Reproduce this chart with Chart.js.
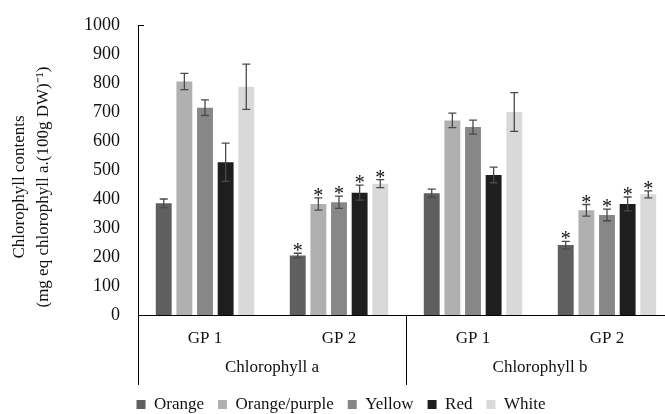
<!DOCTYPE html>
<html lang="en">
<head>
<meta charset="UTF-8" />
<title>Chlorophyll contents</title>
<script src="https://cdn.jsdelivr.net/npm/chart.js"></script>
<style>
  body { margin: 0; padding: 0; background: #fff; overflow: hidden; }
  .chart-container { position: relative; width: 676px; height: 414px; }
</style>
</head>
<body>
<div class="chart-container">
  <canvas id="chart"></canvas>
</div>
<script>
  const categories = ['GP 1', 'GP 2', 'GP 1', 'GP 2'];
  const groups = ['Chlorophyll a', 'Chlorophyll b'];
  const yTitle = ['Chlorophyll contents', '(mg eq chlorophyll a.(100g DW)\u207B\u00B9)'];
  const yTicks = [0, 100, 200, 300, 400, 500, 600, 700, 800, 900, 1000];

  const orange = [385, 205, 420, 241];
  const orangeErr = [15, 8, 14, 13];
  const orangePurple = [805, 383, 671, 361];
  const orangePurpleErr = [28, 21, 25, 20];
  const yellow = [715, 389, 648, 345];
  const yellowErr = [27, 21, 24, 20];
  const red = [527, 422, 483, 383];
  const redErr = [66, 26, 27, 24];
  const white = [787, 453, 700, 416];
  const whiteErr = [78, 14, 67, 12];
  // * = significant difference (GP 2 vs GP 1)
  const significant = [false, true, false, true];

  const FONT = 'Liberation Serif, Times New Roman, serif';

  function ds(label, data, err, color) {
    return {
      label: label, data: data, err: err, sig: significant,
      backgroundColor: color, borderWidth: 0,
      categoryPercentage: 0.77, barPercentage: 0.77
    };
  }

  // error bars + asterisks
  const errorBars = {
    id: 'errorBars',
    afterDatasetsDraw(chart) {
      const c = chart.ctx;
      const y = chart.scales.y;
      c.save();
      chart.data.datasets.forEach((d, i) => {
        chart.getDatasetMeta(i).data.forEach((bar, j) => {
          const top = y.getPixelForValue(d.data[j] + d.err[j]);
          const bot = y.getPixelForValue(d.data[j] - d.err[j]);
          c.strokeStyle = '#4a4a4a';
          c.lineWidth = 1.3;
          c.beginPath();
          c.moveTo(bar.x, top); c.lineTo(bar.x, bot);
          c.moveTo(bar.x - 4, top); c.lineTo(bar.x + 4, top);
          c.moveTo(bar.x - 4, bot); c.lineTo(bar.x + 4, bot);
          c.stroke();
          if (d.sig[j]) {
            c.fillStyle = '#111';
            c.font = '20px ' + FONT;
            c.textAlign = 'center';
            c.textBaseline = 'alphabetic';
            c.fillText('*', bar.x, top + 4);
          }
        });
      });
      c.restore();
    }
  };

  // group labels under the x axis, separator lines, y title
  const groupAxis = {
    id: 'groupAxis',
    afterDraw(chart) {
      const c = chart.ctx;
      const x = chart.scales.x;
      const area = chart.chartArea;
      const bottom = area.bottom;
      const half = (x.getPixelForValue(1) - x.getPixelForValue(0)) / 2;
      c.save();
      c.strokeStyle = '#000';
      c.lineWidth = 1;
      for (let k = 0; k <= categories.length; k += 2) {
        const px = Math.round((k < categories.length ? x.getPixelForValue(k) - half : x.getPixelForValue(k - 1) + half)) + 0.5;
        c.beginPath();
        c.moveTo(px, bottom);
        c.lineTo(px, bottom + 70);
        c.stroke();
      }
      // small tick at the top of the value axis
      c.beginPath();
      c.moveTo(area.left, Math.round(area.top) + 0.5);
      c.lineTo(area.left + 6, Math.round(area.top) + 0.5);
      c.stroke();

      c.fillStyle = '#111';
      c.font = '17px ' + FONT;
      c.textAlign = 'center';
      c.textBaseline = 'middle';
      groups.forEach((g, gi) => {
        const cx = (x.getPixelForValue(gi * 2) + x.getPixelForValue(gi * 2 + 1)) / 2;
        c.fillText(g, cx, bottom + 53);
      });

      c.translate(0, (area.top + area.bottom) / 2 + 17);
      c.rotate(-Math.PI / 2);
      yTitle.forEach((t, li) => c.fillText(t, 0, 20 + li * 24));
      c.restore();
    }
  };

  new Chart(document.getElementById('chart'), {
    type: 'bar',
    data: {
      labels: categories,
      datasets: [
        ds('Orange', orange, orangeErr, '#5f5f5f'),
        ds('Orange/purple', orangePurple, orangePurpleErr, '#b0b0b0'),
        ds('Yellow', yellow, yellowErr, '#878787'),
        ds('Red', red, redErr, '#1e1e1e'),
        ds('White', white, whiteErr, '#d9d9d9')
      ]
    },
    options: {
      responsive: true,
      maintainAspectRatio: false,
      animation: false,
      layout: { padding: { top: 8, right: 2, left: 8, bottom: 0 } },
      plugins: {
        legend: {
          position: 'bottom',
          maxHeight: 32,
          labels: {
            boxWidth: 9, boxHeight: 9, padding: 14,
            color: '#111', font: { family: FONT, size: 17 }
          }
        },
        tooltip: { enabled: false }
      },
      scales: {
        x: {
          grid: { display: false },
          border: { color: '#000', width: 1 },
          ticks: { color: '#111', padding: 5, font: { family: FONT, size: 17 } },
          afterFit(scale) { scale.height = 67; }
        },
        y: {
          min: 0, max: 1000,
          afterBuildTicks(scale) { scale.ticks = yTicks.map(v => ({ value: v })); },
          grid: { display: false, drawTicks: false },
          border: { color: '#000', width: 1 },
          ticks: {
            color: '#111', padding: 18, font: { family: FONT, size: 18, lineHeight: 0.78 },
            callback: v => String(v)
          },
          afterFit(scale) { scale.width += 58; }
        }
      }
    },
    plugins: [errorBars, groupAxis]
  });
</script>
</body>
</html>
